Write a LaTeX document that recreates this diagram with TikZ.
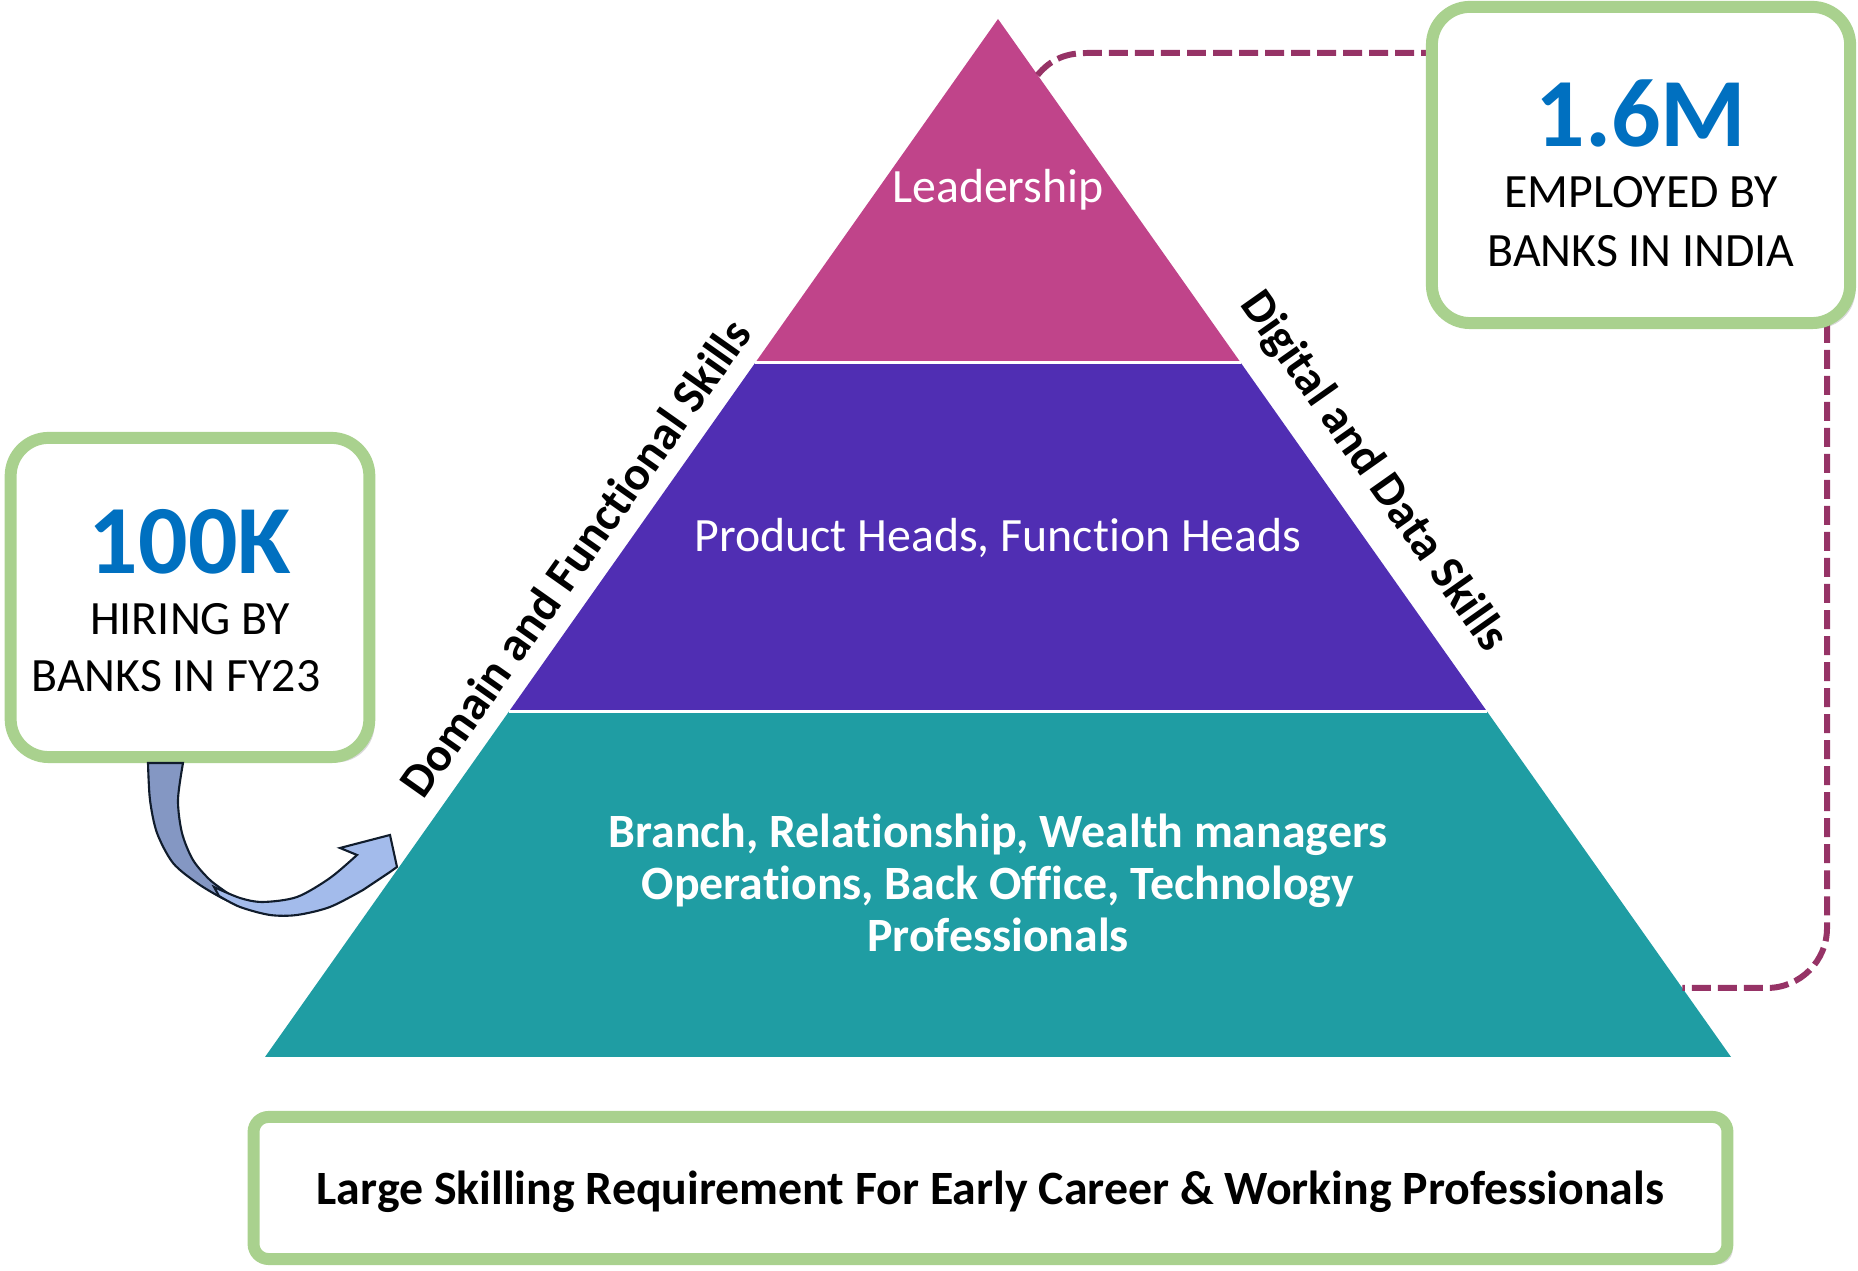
\documentclass[tikz,border=0pt]{standalone}
\usepackage{fontspec}
\setmainfont{Carlito}[Ligatures={NoCommon}]
\usetikzlibrary{calc,shadows}

\definecolor{leadpink}{HTML}{C0448A}
\definecolor{headpurple}{HTML}{502EB3}
\definecolor{baseteal}{HTML}{1F9DA3}
\definecolor{boxgreen}{HTML}{A9D18E}
\definecolor{numblue}{HTML}{0070C0}
\definecolor{plum}{HTML}{963366}
\definecolor{arrowdark}{HTML}{8497C3}
\definecolor{arrowlight}{HTML}{A3BBEB}
\definecolor{arrowedge}{HTML}{101C2C}

\begin{document}
\begin{tikzpicture}[x=0.01cm,y=0.01cm,
    statbox/.style={draw=boxgreen, line width=3.4pt, fill=white, rounded corners=0.38cm,
        drop shadow={shadow xshift=1.5pt,shadow yshift=-1.5pt,opacity=0.3}},
    tiertext/.style={text=white, font=\fontsize{13.6}{16}\selectfont, anchor=base},
    sidetext/.style={font=\bfseries\fontsize{13.6}{16}\selectfont},
    bignum/.style={text=numblue, font=\bfseries\fontsize{27.8}{30}\selectfont, anchor=base},
    stattext/.style={font=\fontsize{13.6}{16}\selectfont, anchor=base},
    linkline/.style={draw=plum, line width=1.7pt, dash pattern=on 5.4pt off 2pt}]

    \useasboundingbox (0,0) rectangle (1858,1271);

    % pyramid
    \coordinate (apex) at (998,1252);
    \coordinate (bl) at (265,214);
    \coordinate (br) at (1731,214);
    \coordinate (l1) at ($(apex)!0.331!(bl)$);
    \coordinate (r1) at ($(apex)!0.331!(br)$);
    \coordinate (l2) at ($(apex)!0.667!(bl)$);
    \coordinate (r2) at ($(apex)!0.667!(br)$);

    \fill[leadpink] (apex) -- (l1) -- (r1) -- cycle;
    \fill[headpurple] (l1) -- (l2) -- (r2) -- (r1) -- cycle;
    \fill[baseteal] (l2) -- (bl) -- (br) -- (r2) -- cycle;
    \draw[white, line width=0.9pt] (l1) -- (r1) (l2) -- (r2);

    \node[tiertext] (lead) at (998,1068) {Leadership};
    \node[tiertext] (heads) at (998,719) {Product Heads, Function Heads};
    \node[text=white, font=\bfseries\fontsize{13.6}{14.8}\selectfont, align=center] (staff) at (998,388)
        {Branch, Relationship, Wealth managers\\Operations, Back Office, Technology\\Professionals};

    % skill labels along the sides
    \node[sidetext, rotate=54.8] (domlbl) at (575,713) {Domain and Functional Skills};
    \node[sidetext, rotate=-54.8] (diglbl) at (1373,799) {Digital and Data Skills};

    % dashed link, runs behind the box
    \coordinate (dtop) at ($(apex)!0.054!(br)$);
    \coordinate (dbot) at ($(apex)!0.9335!(br)$);
    \draw[linkline] (dtop) to[out=50,in=180] (1088,1218) -- (1827,1218)
        [rounded corners=0.6cm] -- (1827,283) -- (dbot);

    % stat boxes
    \node[statbox, minimum width=4.18cm, minimum height=3.16cm] (empbox) at (1641,1106) {};
    \node[bignum] (empnum) at ($(empbox.center)+(0,18)$) {1.6M};
    \node[stattext] (emp1) at ($(empbox.center)+(0,-43)$) {EMPLOYED BY};
    \node[stattext] (emp2) at ($(empbox.center)+(0,-102)$) {BANKS IN INDIA};

    \node[statbox, minimum width=3.585cm, minimum height=3.19cm] (hirebox) at (190,673.5) {};
    \node[bignum] (hirenum) at ($(hirebox.center)+(0,23.5)$) {100K};
    \node[stattext] (hire1) at ($(hirebox.center)+(0,-37.5)$) {HIRING BY};
    \node[stattext] (hire2) at ($(hirebox.center)+(-14,-94.5)$) {BANKS IN FY23};

    \node[statbox, rounded corners=0.15cm, minimum width=14.73cm, minimum height=1.42cm] (needbox) at (990.5,83) {};
    \node[font=\bfseries\fontsize{13.6}{15}\selectfont, anchor=base] (need) at ($(needbox.center)+(0,-17)$)
        {Large Skilling Requirement For Early Career \& Working Professionals};

    % curved arrow from the hiring box
    \filldraw[fill=arrowdark, draw=arrowedge, line width=0.6pt]
        plot[smooth] coordinates {(148,508) (150,471) (157,438) (173,408) (197,388) (222,373) (242,365)}
        -- plot[smooth] coordinates {(242,365) (230,376) (210,391) (193,411) (182,438) (178,471) (183,508)}
        -- cycle;
    \filldraw[fill=arrowlight, draw=arrowedge, line width=0.6pt]
        plot[smooth] coordinates {(214,384) (240,373) (263,369) (297,374) (330,393) (357,416)}
        -- (340,423) -- (390,436) -- (397,404) -- (390,399)
        -- plot[smooth] coordinates {(363,381) (330,364) (297,356) (270,356) (240,364) (219,375)}
        -- cycle;
\end{tikzpicture}
\end{document}
